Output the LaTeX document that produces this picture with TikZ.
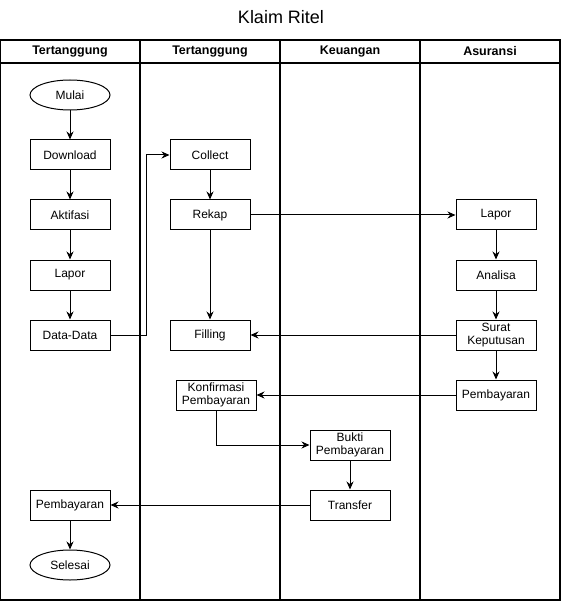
\documentclass[tikz,border=0pt]{standalone}
\usepackage{fontspec}
\setmainfont{Liberation Sans}
\usetikzlibrary{arrows.meta,shapes.geometric}
\begin{document}
\begin{tikzpicture}[x=1pt,y=-1pt,
  every node/.style={font=\fontsize{12}{13.5}\selectfont},
  proc/.style={draw,line width=1pt,minimum width=80pt,minimum height=30pt,inner sep=0pt,align=center},
  term/.style={draw,ellipse,line width=1pt,minimum width=80pt,minimum height=30pt,inner sep=0pt},
  flow/.style={line width=1pt,-{Stealth[length=8pt,width=7pt]}},
  lane/.style={line width=1.2pt},
  head/.style={font=\fontsize{12.5}{14}\selectfont\bfseries}]
\useasboundingbox (0,0) rectangle (561,601);

% title
\node (title) at (281,17) {\fontsize{18}{20}\selectfont Klaim Ritel};

% pool and lanes
\draw[lane] (0.6,40) rectangle (560,600);
\draw[lane] (0.6,63) -- (560,63);
\foreach \xx in {140,280,420} \draw[lane] (\xx,40) -- (\xx,600);
\node[head] (h1) at (70,51.5) {Tertanggung};
\node[head] (h2) at (210,51.5) {Tertanggung};
\node[head] (h3) at (350,51.5) {Keuangan};
\node[head] (h4) at (490,51.5) {Asuransi};

% lane 1
\node[term] (mulai) at (70,95) {Mulai};
\node[proc] (download) at (70,155) {Download};
\node[proc] (aktifasi) at (70,215) {Aktifasi};
\node[proc] (lapor1) at (70,275) {Lapor};
\node[proc] (data) at (70,335) {Data-Data};
\node[proc] (bayar1) at (70,505) {Pembayaran};
\node[term] (selesai) at (70,565) {Selesai};

% lane 2
\node[proc] (collect) at (210,155) {Collect};
\node[proc] (rekap) at (210,215) {Rekap};
\node[proc] (filling) at (210,335) {Filling};
\node[proc] (konf) at (216,395) {Konfirmasi\\Pembayaran};

% lane 3
\node[proc] (bukti) at (350,445) {Bukti\\Pembayaran};
\node[proc] (transfer) at (350,505) {Transfer};

% lane 4
\node[proc] (lapor4) at (496,215) {Lapor};
\node[proc] (analisa) at (496,275) {Analisa};
\node[proc] (surat) at (496,335) {Surat\\Keputusan};
\node[proc] (bayar4) at (496,395) {Pembayaran};

% connectors
\draw[flow] (mulai) -- (download);
\draw[flow] (download) -- (aktifasi);
\draw[flow] (aktifasi) -- (lapor1);
\draw[flow] (lapor1) -- (data);
\draw[flow] (data.east) -| (146.5,155) -- (collect.west);
\draw[flow] (collect) -- (rekap);
\draw[flow] (rekap) -- (filling);
\draw[flow] (rekap) -- (lapor4);
\draw[flow] (lapor4) -- (analisa);
\draw[flow] (analisa) -- (surat);
\draw[flow] (surat) -- (bayar4);
\draw[flow] (surat) -- (filling);
\draw[flow] (bayar4) -- (konf);
\draw[flow] (konf.south) |- (bukti.west);
\draw[flow] (bukti) -- (transfer);
\draw[flow] (transfer) -- (bayar1);
\draw[flow] (bayar1) -- (selesai);
\end{tikzpicture}
\end{document}
